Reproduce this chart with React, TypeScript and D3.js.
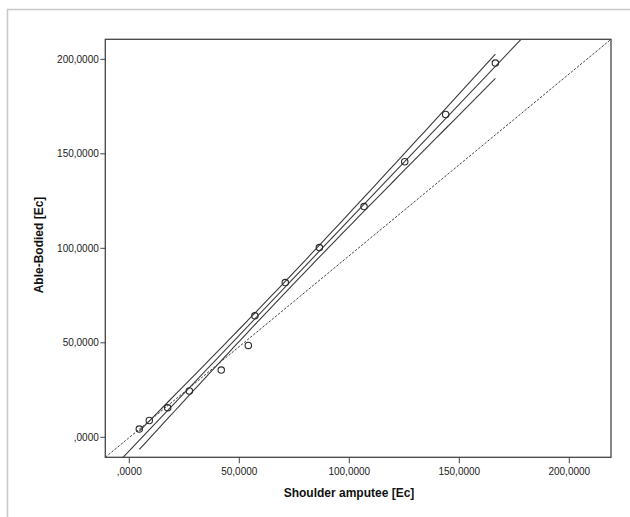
import React from "react";
import * as d3 from "d3";

const shoulderAmputee = [4.55, 9.09, 17.45, 27.3, 41.8, 54.1, 57.1, 70.9, 86.4, 106.7, 125.2, 143.8, 166.4];
const ableBodied = [4.34, 8.89, 15.6, 24.5, 35.6, 48.6, 64.3, 81.9, 100.4, 122.1, 145.8, 170.8, 198.0];
const xTicks = [0, 50, 100, 150, 200];
const yTicks = [0, 50, 100, 150, 200];
const xTickLabels = [",0000", "50,0000", "100,0000", "150,0000", "200,0000"];
const yTickLabels = [",0000", "50,0000", "100,0000", "150,0000", "200,0000"];
const xDomain = [-10.9, 218.95];
const yDomain = [-10.58, 210.6];
const xTitle = "Shoulder amputee [Ec]";
const yTitle = "Able-Bodied [Ec]";
const tCrit = 2.201; // t(0.975, 11)

const W = 630, H = 517;
const plot = { left: 105.3, right: 611, top: 39.3, bottom: 457.3 };

export default function App() {
  const x = d3.scaleLinear().domain(xDomain).range([plot.left, plot.right]);
  const y = d3.scaleLinear().domain(yDomain).range([plot.bottom, plot.top]);

  const n = shoulderAmputee.length;
  const xbar = d3.mean(shoulderAmputee)!;
  const ybar = d3.mean(ableBodied)!;
  let sxx = 0, sxy = 0;
  for (let i = 0; i < n; i++) {
    sxx += (shoulderAmputee[i] - xbar) ** 2;
    sxy += (shoulderAmputee[i] - xbar) * (ableBodied[i] - ybar);
  }
  const b = sxy / sxx;
  const a = ybar - b * xbar;
  let sse = 0;
  for (let i = 0; i < n; i++) sse += (ableBodied[i] - (a + b * shoulderAmputee[i])) ** 2;
  const s = Math.sqrt(sse / (n - 2));

  const xmin = d3.min(shoulderAmputee)!;
  const xmax = d3.max(shoulderAmputee)!;
  const samples = d3.range(0, 61).map((i) => xmin + ((xmax - xmin) * i) / 60);
  const half = (xv: number) => tCrit * s * Math.sqrt(1 / n + (xv - xbar) ** 2 / sxx);
  const line = d3
    .line<[number, number]>()
    .x((d) => x(d[0]))
    .y((d) => y(d[1]));
  const upper = line(samples.map((xv) => [xv, a + b * xv + half(xv)]));
  const lower = line(samples.map((xv) => [xv, a + b * xv - half(xv)]));
  const fit = line([
    [xDomain[0], a + b * xDomain[0]],
    [xDomain[1], a + b * xDomain[1]],
  ]);
  const diag = line([
    [xDomain[0], yDomain[0]],
    [xDomain[1], yDomain[1]],
  ]);

  const font = "Arial, 'Liberation Sans', sans-serif";
  const lineColor = "#3a3a3a";

  return (
    <svg width={W} height={H} style={{ position: "absolute", left: 0, top: 0 }} fontFamily={font}>
      <rect x={0} y={0} width={W} height={H} fill="#fff" />
      <rect x={7.5} y={9.5} width={700} height={600} fill="none" stroke="#c8c8c8" strokeWidth={1.5} />
      <defs>
        <clipPath id="plotClip">
          <rect x={plot.left} y={plot.top} width={plot.right - plot.left} height={plot.bottom - plot.top} />
        </clipPath>
      </defs>
      <g clipPath="url(#plotClip)">
        <path d={diag!} fill="none" stroke="#444" strokeWidth={1} strokeDasharray="2.5,1.5" />
        <path d={fit!} fill="none" stroke={lineColor} strokeWidth={1.1} />
        <path d={upper!} fill="none" stroke={lineColor} strokeWidth={1.1} />
        <path d={lower!} fill="none" stroke={lineColor} strokeWidth={1.1} />
        {shoulderAmputee.map((xv, i) => (
          <circle key={i} cx={x(xv)} cy={y(ableBodied[i])} r={3.2} fill="#fff" fillOpacity={0} stroke="#2a2a2a" strokeWidth={1.1} />
        ))}
      </g>
      <rect
        x={plot.left}
        y={plot.top}
        width={plot.right - plot.left}
        height={plot.bottom - plot.top}
        fill="none"
        stroke="#444"
        strokeWidth={1.3}
      />
      {yTicks.map((t, i) => (
        <g key={"y" + i}>
          <line x1={plot.left - 5} x2={plot.left} y1={y(t)} y2={y(t)} stroke="#444" strokeWidth={1} />
          <text x={plot.left - 6.5} y={y(t)} dy="0.35em" textAnchor="end" fontSize={10} fill="#1a1a1a">
            {yTickLabels[i]}
          </text>
        </g>
      ))}
      {xTicks.map((t, i) => (
        <g key={"x" + i}>
          <line x1={x(t)} x2={x(t)} y1={plot.bottom} y2={plot.bottom + 6} stroke="#444" strokeWidth={1} />
          <text x={x(t)} y={plot.bottom + 18} textAnchor="middle" fontSize={10} fill="#1a1a1a">
            {xTickLabels[i]}
          </text>
        </g>
      ))}
      <text x={349} y={497} textAnchor="middle" fontSize={12} fontWeight="bold" fill="#111">
        {xTitle}
      </text>
      <text transform="translate(43,245) rotate(-90)" textAnchor="middle" fontSize={12} fontWeight="bold" fill="#111">
        {yTitle}
      </text>
    </svg>
  );
}
